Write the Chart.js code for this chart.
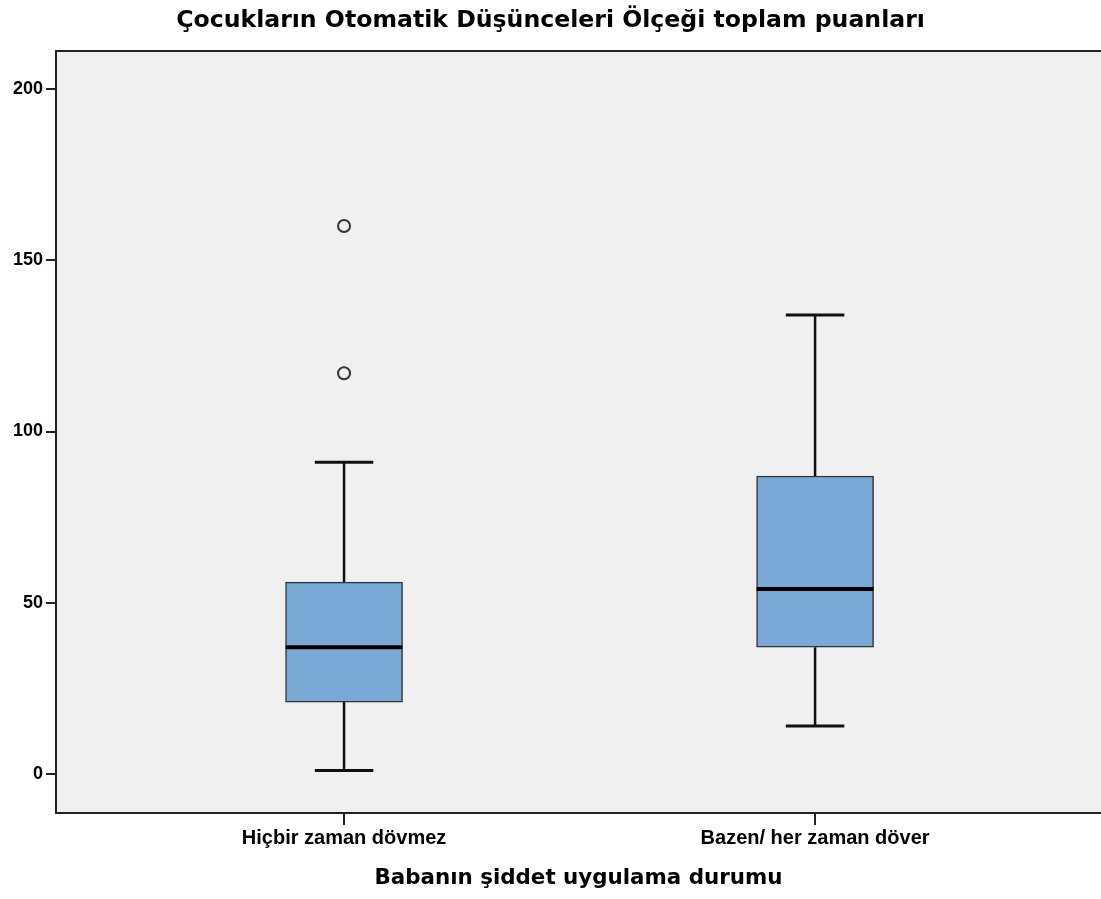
<!DOCTYPE html>
<html>
<head>
<meta charset="utf-8">
<script src="https://cdn.jsdelivr.net/npm/chart.js@4"></script>
<style>
    html, body { margin: 0; padding: 0; background: #ffffff; }
    canvas { display: block; }
</style>
</head>
<body>
<canvas id="grafico" width="1101" height="899"></canvas>
<script>
// ===== DADOS DO BOXPLOT =====
const kategoriler = ['Hiçbir zaman dövmez', 'Bazen/ her zaman döver'];
const minimumlar = [1, 14];
const ceyrek1 = [21, 37];
const medyanlar = [37, 54];
const ceyrek3 = [56, 87];
const maksimumlar = [91, 134];
const ucDegerler = [[160, 117], []];
const yTikler = [0, 50, 100, 150, 200];

const baslik = 'Çocukların Otomatik Düşünceleri Ölçeği toplam puanları';
const xBaslik = 'Babanın şiddet uygulama durumu';

// ===== PLUGIN: fundo, bigodes e medianas =====
const kutuGrafigi = {
    id: 'kutuGrafigi',
    beforeDraw(chart) {
        const { ctx, chartArea } = chart;
        ctx.save();
        ctx.fillStyle = '#f0f0f0';
        ctx.fillRect(chartArea.left, chartArea.top, chartArea.right - chartArea.left, chartArea.bottom - chartArea.top);
        ctx.restore();
    },
    beforeDatasetsDraw(chart) {
        const { ctx } = chart;
        const y = chart.scales.y;
        const meta = chart.getDatasetMeta(0);
        ctx.save();
        ctx.strokeStyle = '#111111';
        ctx.lineCap = 'butt';
        meta.data.forEach((bar, i) => {
            const x = bar.x;
            const yMin = y.getPixelForValue(minimumlar[i]);
            const yMax = y.getPixelForValue(maksimumlar[i]);
            const yQ1 = y.getPixelForValue(ceyrek1[i]);
            const yQ3 = y.getPixelForValue(ceyrek3[i]);
            const capa = bar.width / 4;
            ctx.lineWidth = 2.5;
            ctx.beginPath();
            ctx.moveTo(x, yQ1); ctx.lineTo(x, yMin);
            ctx.moveTo(x, yQ3); ctx.lineTo(x, yMax);
            ctx.stroke();
            ctx.lineWidth = 3;
            ctx.beginPath();
            ctx.moveTo(x - capa, yMin); ctx.lineTo(x + capa, yMin);
            ctx.moveTo(x - capa, yMax); ctx.lineTo(x + capa, yMax);
            ctx.stroke();
        });
        ctx.restore();
    },
    afterDatasetsDraw(chart) {
        const { ctx } = chart;
        const y = chart.scales.y;
        const meta = chart.getDatasetMeta(0);
        ctx.save();
        ctx.strokeStyle = '#000000';
        ctx.lineWidth = 4;
        meta.data.forEach((bar, i) => {
            const yMed = y.getPixelForValue(medyanlar[i]);
            ctx.beginPath();
            ctx.moveTo(bar.x - bar.width / 2, yMed);
            ctx.lineTo(bar.x + bar.width / 2, yMed);
            ctx.stroke();
        });
        ctx.restore();
    },
    afterDraw(chart) {
        const { ctx, chartArea } = chart;
        ctx.save();
        ctx.strokeStyle = '#222222';
        ctx.lineWidth = 2;
        ctx.beginPath();
        ctx.moveTo(chartArea.left, chartArea.top);
        ctx.lineTo(chartArea.right, chartArea.top);
        ctx.stroke();
        ctx.restore();
    }
};

const noktalar = [];
ucDegerler.forEach((lista, i) => lista.forEach(v => noktalar.push({ x: i, y: v })));

const ctx = document.getElementById('grafico').getContext('2d');
const grafico = new Chart(ctx, {
    type: 'bar',
    data: {
        datasets: [{
            type: 'bar',
            data: kategoriler.map((k, i) => ({ x: i, y: [ceyrek1[i], ceyrek3[i]] })),
            backgroundColor: '#79a9d6',
            borderColor: '#333333',
            borderWidth: 1.5,
            borderSkipped: false,
            barThickness: 117
        }, {
            type: 'line',
            data: noktalar,
            showLine: false,
            pointRadius: 6,
            pointBackgroundColor: '#f0f0f0',
            pointBorderColor: '#333333',
            pointBorderWidth: 2
        }]
    },
    options: {
        responsive: false,
        animation: false,
        layout: { autoPadding: false, padding: { left: 0, right: 0, top: 0, bottom: 0 } },
        plugins: {
            legend: { display: false },
            tooltip: { enabled: false },
            title: {
                display: true,
                text: baslik,
                color: '#000000',
                font: { family: 'DejaVu Sans', size: 23.6, weight: 'bold' },
                padding: { top: 7, bottom: 15.7 }
            }
        },
        scales: {
            x: {
                type: 'linear',
                offset: false,
                min: -0.6115,
                max: 1.607,
                afterBuildTicks: (escala) => { escala.ticks = kategoriler.map((k, i) => ({ value: i })); },
                afterFit: (escala) => { escala.height = 86; escala.paddingRight = 0; escala.paddingLeft = 0; },
                grid: { offset: false, drawOnChartArea: false, drawTicks: true, tickLength: 12, color: '#222222', lineWidth: 2 },
                border: { display: true, color: '#222222', width: 2 },
                ticks: {
                    callback: (v) => kategoriler[v],
                    color: '#000000',
                    padding: 1,
                    maxRotation: 0,
                    autoSkip: false,
                    font: { family: 'Liberation Sans', size: 20, weight: 'bold' }
                },
                title: {
                    display: true,
                    text: xBaslik,
                    color: '#000000',
                    font: { family: 'DejaVu Sans', size: 21.4, weight: 'bold' },
                    padding: { top: 0, bottom: 8 }
                }
            },
            y: {
                min: -11.39,
                max: 211.1,
                afterBuildTicks: (escala) => { escala.ticks = yTikler.map(v => ({ value: v })); },
                afterFit: (escala) => { escala.width = 56; },
                grid: { drawOnChartArea: false, drawTicks: true, tickLength: 10, color: '#222222', lineWidth: 2 },
                border: { display: true, color: '#222222', width: 2 },
                ticks: {
                    color: '#000000',
                    padding: 3,
                    font: { family: 'Liberation Sans', size: 18, weight: 'bold' }
                }
            }
        }
    },
    plugins: [kutuGrafigi]
});
</script>
</body>
</html>
